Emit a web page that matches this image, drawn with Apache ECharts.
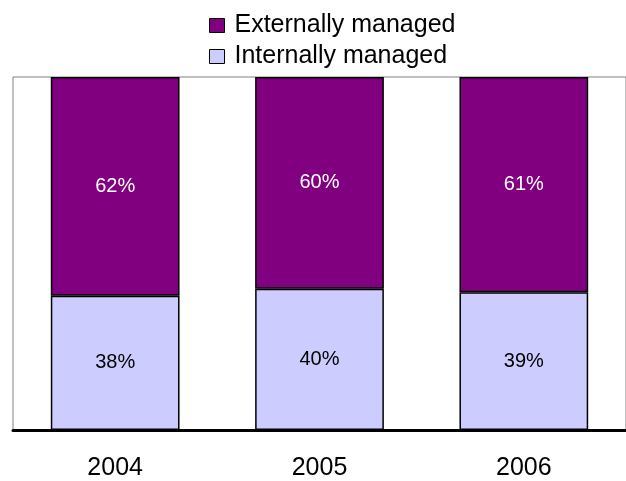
<!DOCTYPE html>
<html>
<head>
<meta charset="utf-8">
<script src="https://cdn.jsdelivr.net/npm/echarts@6/dist/echarts.min.js"></script>
<style>html,body{margin:0;padding:0;background:#fff}#c{width:626px;height:481px}</style>
</head>
<body>
<div id="c"></div>
<script>
var categories = ['2004', '2005', '2006'];
var internallyManaged = [38, 40, 39];
var externallyManaged = [62, 60, 61];
var seriesNames = ['Externally managed', 'Internally managed'];

var chart = echarts.init(document.getElementById('c'), null, {renderer: 'canvas'});
var font = 'Liberation Sans, Arial, sans-serif';
chart.setOption({
  animation: false,
  backgroundColor: '#ffffff',
  textStyle: {fontFamily: font},
  legend: {
    data: seriesNames,
    orient: 'vertical',
    left: 204,
    top: 6,
    itemWidth: 15,
    itemHeight: 14,
    itemGap: 2,
    icon: 'rect',
    textStyle: {fontSize: 25, color: '#000', fontFamily: font, lineHeight: 29, padding: [0, 0, 0, 5]},
    itemStyle: {borderColor: '#000', borderWidth: 1}
  },
  grid: {
    left: 13, width: 620, top: 77, bottom: 49,
    show: true, borderColor: '#808080', borderWidth: 1, backgroundColor: 'transparent'
  },
  xAxis: {
    type: 'category',
    data: categories,
    axisLine: {lineStyle: {color: '#000', width: 3}},
    axisTick: {show: false},
    axisLabel: {fontSize: 25, color: '#000', margin: 26, fontFamily: font}
  },
  yAxis: {
    type: 'value', min: 0, max: 100, interval: 20,
    show: false,
    splitLine: {show: false}
  },
  series: [
    {
      name: 'Internally managed', type: 'bar', stack: 's', barWidth: '63%',
      data: internallyManaged,
      itemStyle: {color: '#CCCCFF', borderColor: '#000', borderWidth: 1.5},
      label: {show: true, position: 'inside', formatter: '{c}%', fontSize: 20, color: '#000', fontFamily: font}
    },
    {
      name: 'Externally managed', type: 'bar', stack: 's', barWidth: '63%',
      data: externallyManaged,
      itemStyle: {color: '#800080', borderColor: '#000', borderWidth: 1.5},
      label: {show: true, position: 'inside', formatter: '{c}%', fontSize: 20, color: '#fff', fontFamily: font}
    }
  ]
});
</script>
</body>
</html>
